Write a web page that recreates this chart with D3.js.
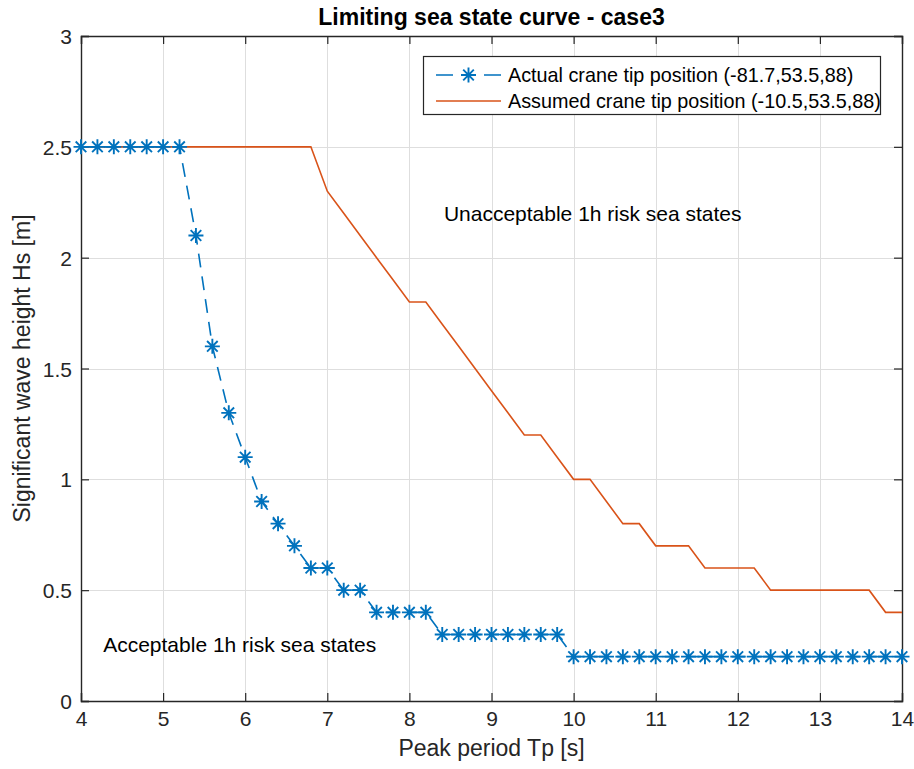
<!DOCTYPE html>
<html>
<head>
<meta charset="utf-8">
<script src="https://cdn.jsdelivr.net/npm/d3@7/dist/d3.min.js"></script>
<style>
  html, body { margin: 0; padding: 0; background: #fff; }
  svg { display: block; font-family: "Liberation Sans", Arial, Helvetica, sans-serif; }
</style>
</head>
<body>
<svg id="chart" width="914" height="769"></svg>
<script>
// Peak period grid (s), shared by both curves
const peakPeriod = [4.0, 4.2, 4.4, 4.6, 4.8, 5.0, 5.2, 5.4, 5.6, 5.8,
                    6.0, 6.2, 6.4, 6.6, 6.8, 7.0, 7.2, 7.4, 7.6, 7.8,
                    8.0, 8.2, 8.4, 8.6, 8.8, 9.0, 9.2, 9.4, 9.6, 9.8,
                    10.0, 10.2, 10.4, 10.6, 10.8, 11.0, 11.2, 11.4, 11.6, 11.8,
                    12.0, 12.2, 12.4, 12.6, 12.8, 13.0, 13.2, 13.4, 13.6, 13.8, 14.0];

// Limiting Hs (m) for the actual crane tip position
const hsActual = [2.5, 2.5, 2.5, 2.5, 2.5, 2.5, 2.5, 2.1, 1.6, 1.3,
                  1.1, 0.9, 0.8, 0.7, 0.6, 0.6, 0.5, 0.5, 0.4, 0.4,
                  0.4, 0.4, 0.3, 0.3, 0.3, 0.3, 0.3, 0.3, 0.3, 0.3,
                  0.2, 0.2, 0.2, 0.2, 0.2, 0.2, 0.2, 0.2, 0.2, 0.2,
                  0.2, 0.2, 0.2, 0.2, 0.2, 0.2, 0.2, 0.2, 0.2, 0.2, 0.2];

// Limiting Hs (m) for the assumed crane tip position
const hsAssumed = [2.5, 2.5, 2.5, 2.5, 2.5, 2.5, 2.5, 2.5, 2.5, 2.5,
                   2.5, 2.5, 2.5, 2.5, 2.5, 2.3, 2.2, 2.1, 2.0, 1.9,
                   1.8, 1.8, 1.7, 1.6, 1.5, 1.4, 1.3, 1.2, 1.2, 1.1,
                   1.0, 1.0, 0.9, 0.8, 0.8, 0.7, 0.7, 0.7, 0.6, 0.6,
                   0.6, 0.6, 0.5, 0.5, 0.5, 0.5, 0.5, 0.5, 0.5, 0.4, 0.4];

const seriesNames = ["Actual crane tip position (-81.7,53.5,88)",
                     "Assumed crane tip position (-10.5,53.5,88)"];
const xTicks = [4, 5, 6, 7, 8, 9, 10, 11, 12, 13, 14];
const yTicks = [0, 0.5, 1, 1.5, 2, 2.5, 3];
const titleText = "Limiting sea state curve - case3";
const xLabel = "Peak period Tp [s]";
const yLabel = "Significant wave height Hs [m]";
const regionLabels = [
  { text: "Unacceptable 1h risk sea states", x: 8.42, y: 2.2 },
  { text: "Acceptable 1h risk sea states", x: 4.27, y: 0.255 }
];

const BLUE = "#0072BD", ORANGE = "#D95319", AX = "#262626";

const svg = d3.select("#chart");
const m = { left: 81, right: 902, top: 36, bottom: 701 };

const x = d3.scaleLinear().domain([4, 14]).range([m.left, m.right]);
const y = d3.scaleLinear().domain([0, 3]).range([m.bottom, m.top]);

// grid
const grid = svg.append("g").attr("stroke", "#dedede").attr("stroke-width", 1);
grid.selectAll("line.gx").data(xTicks).join("line")
  .attr("x1", d => Math.round(x(d)) + 0.5).attr("x2", d => Math.round(x(d)) + 0.5)
  .attr("y1", m.top).attr("y2", m.bottom);
grid.selectAll("line.gy").data(yTicks).join("line")
  .attr("y1", d => Math.round(y(d)) + 0.5).attr("y2", d => Math.round(y(d)) + 0.5)
  .attr("x1", m.left).attr("x2", m.right);

// axes (ticks inward on all four sides)
const tickLen = 8;
const axBottom = svg.append("g").attr("transform", `translate(0,${m.bottom})`)
  .call(d3.axisBottom(x).tickValues(xTicks).tickSize(-tickLen).tickPadding(10).tickFormat(d3.format("d")));
const axTop = svg.append("g").attr("transform", `translate(0,${m.top})`)
  .call(d3.axisTop(x).tickValues(xTicks).tickSize(-tickLen).tickFormat(""));
const axLeft = svg.append("g").attr("transform", `translate(${m.left},0)`)
  .call(d3.axisLeft(y).tickValues(yTicks).tickSize(-tickLen).tickPadding(9).tickFormat(d => d));
const axRight = svg.append("g").attr("transform", `translate(${m.right},0)`)
  .call(d3.axisRight(y).tickValues(yTicks).tickSize(-tickLen).tickFormat(""));

[axBottom, axTop, axLeft, axRight].forEach(g => {
  g.select(".domain").attr("stroke", AX).attr("stroke-width", 1.4);
  g.selectAll(".tick line").attr("stroke", AX).attr("stroke-width", 1.2);
  g.selectAll(".tick text").attr("fill", AX).style("font-size", "21px")
    .style("font-family", '"Liberation Sans", Arial, sans-serif');
});
axBottom.selectAll(".tick text").attr("dy", "0.71em");
axLeft.selectAll(".tick text").attr("dy", "0.36em");

const ptsActual = peakPeriod.map((p, i) => [p, hsActual[i]]);
const ptsAssumed = peakPeriod.map((p, i) => [p, hsAssumed[i]]);
const line = d3.line().x(d => x(d[0])).y(d => y(d[1]));

const plot = svg.append("g");
plot.append("path").datum(ptsAssumed).attr("d", line)
  .attr("fill", "none").attr("stroke", ORANGE).attr("stroke-width", 1.6);
plot.append("path").datum(ptsActual).attr("d", line)
  .attr("fill", "none").attr("stroke", BLUE).attr("stroke-width", 1.6)
  .attr("stroke-dasharray", "14,9");

// asterisk marker: plus + cross
function asterisk(r) {
  const d = r * 0.7071;
  return `M${-r},0L${r},0M0,${-r}L0,${r}M${-d},${-d}L${d},${d}M${-d},${d}L${d},${-d}`;
}
plot.selectAll("path.star").data(ptsActual).join("path")
  .attr("class", "star")
  .attr("transform", d => `translate(${x(d[0])},${y(d[1])})`)
  .attr("d", asterisk(7.5))
  .attr("fill", "none").attr("stroke", BLUE).attr("stroke-width", 1.9);

// region labels
svg.selectAll("text.region").data(regionLabels).join("text")
  .attr("class", "region")
  .attr("x", d => x(d.x)).attr("y", d => y(d.y))
  .attr("dy", "0.36em")
  .style("font-size", "21px").attr("fill", "#000")
  .text(d => d.text);

// title and axis labels
svg.append("text").attr("x", (m.left + m.right) / 2).attr("y", 25)
  .attr("text-anchor", "middle").style("font-size", "23px").style("font-weight", "bold")
  .attr("fill", "#000").text(titleText);
svg.append("text").attr("x", (m.left + m.right) / 2).attr("y", 756)
  .attr("text-anchor", "middle").style("font-size", "23px").attr("fill", AX).text(xLabel);
svg.append("text").attr("transform", `translate(30,${(m.top + m.bottom) / 2}) rotate(-90)`)
  .attr("text-anchor", "middle").style("font-size", "23px").attr("fill", AX).text(yLabel);

// legend
const lg = svg.append("g");
lg.append("rect").attr("x", 423.5).attr("y", 56.5).attr("width", 457).attr("height", 58)
  .attr("fill", "#fff").attr("stroke", AX).attr("stroke-width", 1.2);
const rows = [
  { name: seriesNames[0], color: BLUE, star: true, cy: 75 },
  { name: seriesNames[1], color: ORANGE, star: false, cy: 101 }
];
rows.forEach(r => {
  lg.append("line").attr("x1", 436).attr("x2", 501).attr("y1", r.cy).attr("y2", r.cy)
    .attr("stroke", r.color).attr("stroke-width", 1.6)
    .attr("stroke-dasharray", r.star ? "17,31" : null);
  if (r.star) {
    lg.append("path").attr("transform", `translate(468.5,${r.cy})`).attr("d", asterisk(7.5))
      .attr("fill", "none").attr("stroke", r.color).attr("stroke-width", 1.9);
  }
  lg.append("text").attr("x", 508).attr("y", r.cy).attr("dy", "0.36em")
    .style("font-size", "19.8px").attr("fill", "#000").text(r.name);
});
</script>
</body>
</html>
